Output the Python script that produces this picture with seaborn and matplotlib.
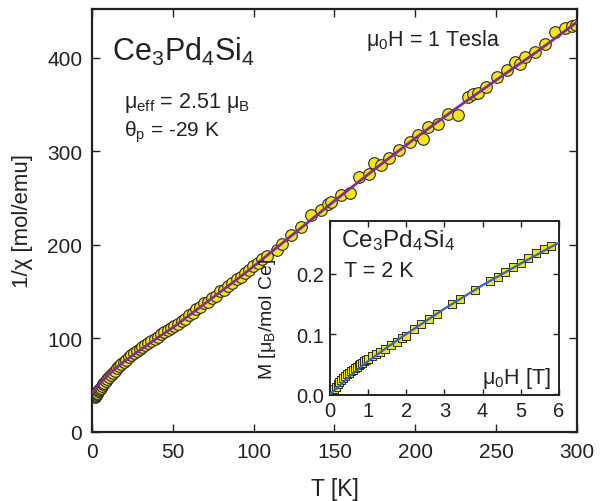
import matplotlib
matplotlib.use("Agg")
import matplotlib.pyplot as plt
import seaborn as sns
import pandas as pd

# ---------------- data ----------------
# main panel: 1/chi vs T (mu0H = 1 T)
T_data = [1.8, 2.1, 2.4, 2.8, 3.2, 3.7, 4.2, 4.8, 5.4, 6.0, 6.8, 7.6, 8.5, 9.5,
          10.5, 11.6, 12.8, 14.0, 15.3, 16.6, 18.0, 19.5, 21.0, 22.6, 24.2, 25.9,
          27.6, 29.4, 31.2, 33.0, 34.9, 36.8, 38.7, 40.7, 42.7, 44.7, 46.8, 48.9,
          51.0, 53.2, 55.4, 57.7, 60.0, 62.3, 64.6, 67.0, 69.4, 71.8, 74.2, 76.7,
          79.2, 81.7, 84.2, 86.8, 89.4, 92.0, 94.6, 97.2, 99.9, 102.6, 105.3, 108.0,
          114.7, 117.8, 123.0, 129.0, 135.4, 141.6, 145.8, 148.0, 154.0, 159.6,
          165.4, 171.6, 174.7, 179.0, 184.0, 190.0, 196.5, 201.6, 204.7, 207.8,
          214.0, 220.3, 226.5, 232.7, 235.8, 238.9, 244.0, 250.3, 256.5, 261.7,
          264.8, 267.9, 274.2, 280.4, 286.6, 292.8, 297.2, 299.3]
inv_chi = [37.5, 38.5, 39.6, 40.8, 42.0, 43.3, 44.6, 46.0, 47.5, 49.0, 50.8, 52.6,
           54.6, 56.8, 59.0, 61.2, 63.4, 65.6, 67.9, 70.1, 72.5, 75.0, 77.3, 79.6,
           82.0, 84.0, 86.2, 88.5, 90.8, 92.8, 95.2, 97.3, 99.6, 102.0, 104.3, 106.5,
           109.0, 111.3, 113.5, 115.3, 119.0, 121.0, 125.5, 127.0, 131.3, 133.5,
           137.8, 139.2, 143.5, 145.8, 150.5, 152.0, 156.4, 158.9, 163.8, 165.5,
           170.3, 172.8, 177.8, 180.4, 185.2, 188.0,
           194.0, 201.0, 210.0, 219.0, 232.0, 237.0, 244.0, 245.5, 253.0, 255.0,
           272.0, 276.0, 287.0, 285.0, 293.0, 301.0, 310.0, 317.0, 313.0, 326.0,
           329.0, 340.0, 339.0, 358.0, 361.5, 362.6, 368.6, 379.0, 386.4, 395.0,
           393.0, 400.7, 406.0, 415.0, 427.0, 432.0, 434.0, 435.0]
# modified Curie-Weiss fit curve
T_fit = [0, 2.5, 5, 7.5, 10, 15, 20, 30, 40, 50, 60, 70, 80, 90, 100, 125, 150,
         175, 200, 225, 250, 275, 300]
inv_chi_fit = [42, 47, 52, 56.5, 61, 68.5, 75.5, 88, 100, 111.5, 124.5, 137.5,
               150.5, 163.5, 177, 212, 247, 281, 314, 345.5, 376, 406, 438]

# inset: M vs mu0H at T = 2 K
H_data = [0.02, 0.05, 0.1, 0.15, 0.2, 0.25, 0.3, 0.35, 0.4, 0.45, 0.5, 0.55, 0.6,
          0.65, 0.7, 0.75, 0.8, 0.85, 0.9, 0.95, 1.0, 1.1, 1.2, 1.3, 1.45, 1.6,
          1.75, 1.9, 2.0, 2.2, 2.4, 2.6, 2.8, 3.2, 3.4, 3.8, 4.2, 4.4, 4.6, 4.8,
          5.0, 5.2, 5.4, 5.6, 5.8]
M_data = [0.002, 0.005, 0.009, 0.013, 0.017, 0.021, 0.024, 0.027, 0.030, 0.033,
          0.036, 0.039, 0.041, 0.044, 0.046, 0.048, 0.050, 0.052, 0.055, 0.057,
          0.059, 0.063, 0.067, 0.070, 0.076, 0.082, 0.087, 0.093, 0.097, 0.108,
          0.117, 0.125, 0.133, 0.150, 0.158, 0.173, 0.188, 0.195, 0.203, 0.211,
          0.218, 0.226, 0.234, 0.241, 0.2465]
H_fit = [0, 0.5, 1, 1.5, 2, 3, 4, 5, 6]
M_fit = [0, 0.029, 0.055, 0.078, 0.1, 0.142, 0.181, 0.217, 0.2516]

main_xticks = [0, 50, 100, 150, 200, 250, 300]
main_yticks = [0, 100, 200, 300, 400]
inset_xticks = [0, 1, 2, 3, 4, 5, 6]
inset_yticks = [0.0, 0.1, 0.2]

# ---------------- style ----------------
sns.set_theme(style="ticks")
plt.rcParams['font.family'] = ['Liberation Sans', 'DejaVu Sans']
plt.rcParams['mathtext.fontset'] = 'custom'
plt.rcParams['mathtext.rm'] = 'Liberation Sans'
plt.rcParams['mathtext.it'] = 'Liberation Sans:italic'
plt.rcParams['mathtext.default'] = 'regular'

YELLOW = "#F2E41A"
EDGE = "#2a2a22"
PURPLE = "#80308A"
BLUE = "#3A64B4"
TXT = "#222222"

fig = plt.figure(figsize=(6.02, 5.02), dpi=100)
ax = fig.add_axes([0.1528, 0.1375, 0.8056, 0.8426])
ins = fig.add_axes([0.548, 0.2112, 0.3804, 0.3466])

df_main = pd.DataFrame({"T": T_data, "v": inv_chi})
df_mfit = pd.DataFrame({"T": T_fit, "v": inv_chi_fit})
df_ins = pd.DataFrame({"H": H_data, "M": M_data})
df_ifit = pd.DataFrame({"H": H_fit, "M": M_fit})

sns.scatterplot(data=df_main, x="T", y="v", ax=ax, s=70, color=YELLOW,
                edgecolor=EDGE, linewidth=0.8, zorder=2)
sns.lineplot(data=df_mfit, x="T", y="v", ax=ax, color=PURPLE, lw=2.0,
             sort=False, estimator=None, zorder=3)

sns.scatterplot(data=df_ins, x="H", y="M", ax=ins, s=36, marker="s",
                color=YELLOW, edgecolor=EDGE, linewidth=0.7, zorder=2)
sns.lineplot(data=df_ifit, x="H", y="M", ax=ins, color=BLUE, lw=1.6,
             sort=False, estimator=None, zorder=3)

# main axes formatting
ax.set_xlim(0, 300)
ax.set_ylim(0, 452)
ax.set_xticks(main_xticks)
ax.set_yticks(main_yticks)
ax.tick_params(direction="in", length=6, width=1, top=True, right=True,
               labelsize=15, colors=TXT, pad=7)
for sp in ax.spines.values():
    sp.set_linewidth(1.6)
    sp.set_color(TXT)
    sp.set_visible(True)
ax.set_xlabel("T [K]", fontsize=16.5, color=TXT, labelpad=12)
ax.set_ylabel("1/χ [mol/emu]", fontsize=16, color=TXT, labelpad=10)

ax.text(0.041, 0.90, "Ce$_3$Pd$_4$Si$_4$", transform=ax.transAxes,
        fontsize=22, color=TXT, va="center", ha="left")
ax.text(0.066, 0.781, "μ$_{eff}$ = 2.51 μ$_B$", transform=ax.transAxes,
        fontsize=15.5, color=TXT, va="center", ha="left")
ax.text(0.066, 0.712, "θ$_p$ = -29 K", transform=ax.transAxes,
        fontsize=15, color=TXT, va="center", ha="left")
ax.text(0.565, 0.929, "μ$_0$H = 1 Tesla", transform=ax.transAxes,
        fontsize=15.5, color=TXT, va="center", ha="left")

# inset formatting
ins.set_xlim(0, 6)
ins.set_ylim(-0.001, 0.2875)
ins.set_xticks(inset_xticks)
ins.set_yticks(inset_yticks)
ins.set_yticklabels([f"{v:.1f}" for v in inset_yticks])
ins.tick_params(direction="in", length=4, width=1, top=True, right=True,
                labelsize=14.5, colors=TXT, pad=4)
for sp in ins.spines.values():
    sp.set_linewidth(1.4)
    sp.set_color(TXT)
    sp.set_visible(True)
ins.set_xlabel("")
ins.set_ylabel("M [μ$_B$/mol Ce]", fontsize=14, color=TXT)
ins.yaxis.set_label_coords(-0.225, 0.44)
ins.text(0.05, 0.895, "Ce$_3$Pd$_4$Si$_4$", transform=ins.transAxes,
         fontsize=17.5, color=TXT, va="center", ha="left")
ins.text(0.06, 0.715, "T = 2 K", transform=ins.transAxes,
         fontsize=15.5, color=TXT, va="center", ha="left")
ins.text(0.965, 0.1, "μ$_0$H [T]", transform=ins.transAxes,
         fontsize=15.5, color=TXT, va="center", ha="right")

fig.savefig("out.png", dpi=100)
